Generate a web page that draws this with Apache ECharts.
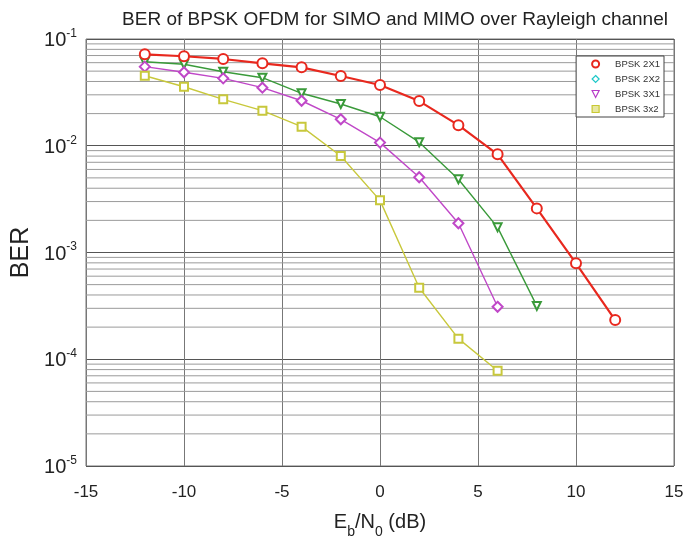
<!DOCTYPE html>
<html>
<head>
<meta charset="utf-8">
<script src="https://cdn.jsdelivr.net/npm/echarts@6/dist/echarts.min.js"></script>
<style>
  html, body { margin: 0; padding: 0; background: #fff; }
</style>
</head>
<body>
<div id="chart" style="width: 687px; height: 543px"></div>
<script>
const snr = [-12, -10, -8, -6, -4, -2, 0, 2, 4, 6, 8, 10, 12]
const ber2x1 = [0.0719, 0.0689, 0.065, 0.0592, 0.0543, 0.045, 0.0371, 0.0262, 0.0156, 0.00832, 0.00259, 0.000792, 0.000233]
const ber2x2 = [0.0613, 0.058, 0.0494, 0.0434, 0.031, 0.0246, 0.0187, 0.0108, 0.00485, 0.00172, 0.000316]
const ber3x1 = [0.0551, 0.0488, 0.0428, 0.035, 0.0264, 0.0177, 0.0107, 0.00507, 0.00188, 0.00031]
const ber3x2 = [0.0453, 0.0357, 0.0272, 0.0213, 0.0151, 0.00802, 0.00308, 0.000468, 0.000156, 0.000078]
const xTicks = [-15, -10, -5, 0, 5, 10, 15]
const xRange = [-15, 15]

const pairs = (ys) => ys.map((v, i) => [snr[i], v])

// minor log grid lines (2..9 x 10^k), drawn as plain horizontal line series
const minorValues = []
for (let k = -5; k <= -2; k++) {
  for (let m = 2; m <= 9; m++) {
    minorValues.push(m * Math.pow(10, k))
  }
}
const minorSeries = minorValues.map(v => ({
  type: 'line',
  data: [[xRange[0], v], [xRange[1], v]],
  symbol: 'none',
  silent: true,
  z: 1,
  lineStyle: { color: '#9a9a9a', width: 1 },
  tooltip: { show: false }
}))

const chart = echarts.init(document.getElementById('chart'))

const font = '"Liberation Sans", Arial, sans-serif'

const option = {
  animation: false,
  textStyle: { fontFamily: font },
  title: {
    text: 'BER of BPSK OFDM for SIMO and MIMO over Rayleigh channel',
    left: 390,
    textAlign: 'center',
    top: 5,
    textStyle: { fontSize: 19, fontWeight: 'normal', color: '#222', fontFamily: font }
  },
  legend: {
    orient: 'vertical',
    right: 23,
    top: 56,
    padding: [3, 4, 3, 15],
    itemGap: 5,
    itemWidth: 7,
    itemHeight: 7,
    backgroundColor: '#fff',
    borderColor: '#444',
    borderWidth: 1,
    textStyle: { fontSize: 9.5, color: '#333', fontFamily: font, padding: [0, 0, 0, 11] },
    data: [
      { name: 'BPSK 2X1', icon: 'circle', itemStyle: { color: '#fff', borderColor: '#e8281e', borderWidth: 2 } },
      { name: 'BPSK 2X2', icon: 'diamond', itemStyle: { color: '#fff', borderColor: '#1ec8c8', borderWidth: 1.2 } },
      { name: 'BPSK 3X1', icon: 'path://M0,0 L10,0 L5,10 Z', itemStyle: { color: '#fff', borderColor: '#b83cc8', borderWidth: 1.2 } },
      { name: 'BPSK 3x2', icon: 'rect', itemStyle: { color: '#e8e8a0', borderColor: '#c8c832', borderWidth: 1.2 } }
    ]
  },
  grid: {
    left: 86,
    right: 13,
    top: 39,
    bottom: 77,
    outerBoundsMode: 'none',
    containLabel: false,
    show: true,
    borderColor: '#777',
    borderWidth: 1
  },
  xAxis: {
    type: 'value',
    min: xRange[0],
    max: xRange[1],
    interval: 5,
    name: '{n|E}{sub|b}{n|/N}{sub|0}{n| (dB)}',
    nameLocation: 'middle',
    nameGap: 46,
    nameTextStyle: {
      rich: {
        n: { fontSize: 20, color: '#222', fontFamily: font, padding: [0, 0, 7, 0], verticalAlign: 'bottom' },
        sub: { fontSize: 14, color: '#222', fontFamily: font, verticalAlign: 'bottom' }
      }
    },
    axisLine: { show: false },
    axisTick: { show: false },
    axisLabel: {
      fontSize: 17,
      color: '#222',
      margin: 18,
      formatter: (v) => (xTicks.includes(v) ? String(v) : '')
    },
    splitLine: { show: true, lineStyle: { color: '#777', width: 1 } }
  },
  yAxis: {
    type: 'log',
    logBase: 10,
    min: 1e-5,
    max: 0.1,
    name: 'BER',
    nameLocation: 'middle',
    nameGap: 52,
    nameTextStyle: { fontSize: 25, color: '#222', fontFamily: font },
    axisLine: { show: false },
    axisTick: { show: false },
    axisLabel: {
      margin: 9,
      formatter: (v) => '{b|10}{s|' + Math.round(Math.log10(v)) + '}',
      rich: {
        b: { fontSize: 20, color: '#222', fontFamily: font, verticalAlign: 'bottom' },
        s: { fontSize: 12, color: '#222', fontFamily: font, verticalAlign: 'bottom', padding: [0, 0, 11, 0] }
      }
    },
    splitLine: { show: true, lineStyle: { color: '#555', width: 1.2 } }
  },
  series: minorSeries.concat([
    {
      name: 'BPSK 2X1',
      type: 'line',
      data: pairs(ber2x1),
      symbol: 'emptyCircle',
      symbolSize: 10,
      z: 5,
      lineStyle: { color: '#e8281e', width: 2.2 },
      itemStyle: { color: '#e8281e', borderWidth: 2 }
    },
    {
      name: 'BPSK 2X2',
      type: 'line',
      data: pairs(ber2x2),
      symbol: 'emptyTriangle',
      symbolRotate: 180,
      symbolSize: 8,
      z: 4,
      lineStyle: { color: '#3a9a3a', width: 1.4 },
      itemStyle: { color: '#3a9a3a', borderWidth: 1.2 }
    },
    {
      name: 'BPSK 3X1',
      type: 'line',
      data: pairs(ber3x1),
      symbol: 'emptyDiamond',
      symbolSize: 10,
      z: 4,
      lineStyle: { color: '#c048c8', width: 1.4 },
      itemStyle: { color: '#c048c8', borderWidth: 1.2 }
    },
    {
      name: 'BPSK 3x2',
      type: 'line',
      data: pairs(ber3x2),
      symbol: 'emptyRect',
      symbolSize: 8,
      z: 4,
      lineStyle: { color: '#c8c83c', width: 1.4 },
      itemStyle: { color: '#c8c83c', borderWidth: 1.2 }
    }
  ])
}

chart.setOption(option)
</script>
</body>
</html>
